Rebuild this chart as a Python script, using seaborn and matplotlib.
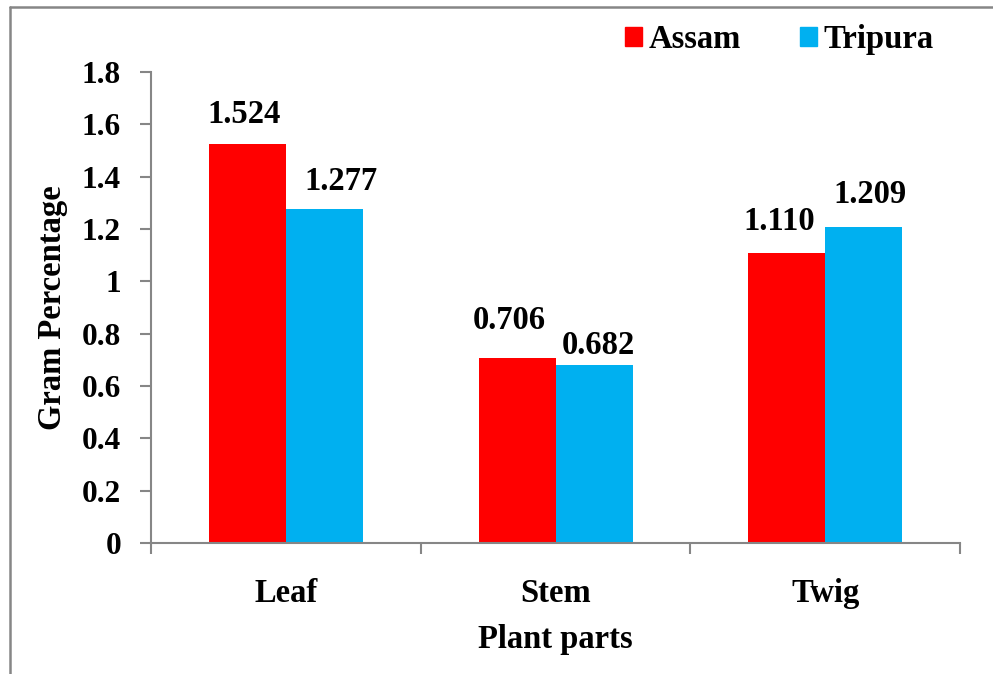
import matplotlib
matplotlib.use("Agg")
import matplotlib.pyplot as plt
import seaborn as sns
import pandas as pd
from matplotlib.lines import Line2D
from matplotlib.ticker import FixedLocator

# Data
parts = ["Leaf", "Stem", "Twig"]
regions = ["Assam", "Tripura"]
assam = [1.524, 0.706, 1.110]
tripura = [1.277, 0.682, 1.209]
colors = ["#FF0000", "#00B0F0"]

# Hand-placed value label nudges (pixels), per region then per part
label_dx = [[-3.5, -7.5, -7.5], [17, 4, 6]]
label_dy = [[21, 29, 23], [19, 11, 24]]

df = pd.DataFrame({
    "part": parts * 2,
    "region": [regions[0]] * 3 + [regions[1]] * 3,
    "value": assam + tripura,
})

sns.set_theme(style="white")
plt.rcParams["font.family"] = ["Liberation Serif", "DejaVu Serif"]
plt.rcParams["font.weight"] = "bold"
plt.rcParams["text.color"] = "black"
plt.rcParams["xtick.color"] = "black"
plt.rcParams["ytick.color"] = "black"
plt.rcParams["axes.labelcolor"] = "black"

fig = plt.figure(figsize=(9.93, 6.74), dpi=100)
ax = fig.add_axes([0.152, 0.1944, 0.815, 0.6988])

sns.barplot(data=df, x="part", y="value", hue="region", order=parts,
            hue_order=regions, palette=colors, width=0.571, gap=0,
            saturation=1, edgecolor="none", linewidth=0, ax=ax, legend=False)

series = [assam, tripura]
for s, cont in enumerate(ax.containers):
    for i, bar in enumerate(cont):
        ax.annotate(f"{series[s][i]:.3f}",
                    xy=(bar.get_x() + bar.get_width() / 2, bar.get_height()),
                    xytext=(label_dx[s][i], label_dy[s][i]),
                    textcoords="offset pixels", ha="center", va="baseline",
                    fontsize=23.5, fontweight="bold", color="black")

gray = "#868686"
ax.set_xlim(-0.5, 2.5)
ax.set_ylim(0, 1.8)
ax.set_yticks([0, 0.2, 0.4, 0.6, 0.8, 1.0, 1.2, 1.4, 1.6, 1.8])
ax.set_yticklabels(["0", "0.2", "0.4", "0.6", "0.8", "1", "1.2", "1.4", "1.6", "1.8"])
ax.xaxis.set_minor_locator(FixedLocator([-0.5, 0.5, 1.5, 2.5]))
ax.tick_params(axis="x", which="major", length=0, pad=25, labelsize=23.5,
               labelcolor="black")
ax.tick_params(axis="x", which="minor", length=8, width=1.5, color=gray,
               direction="out", bottom=True)
ax.tick_params(axis="y", length=8, width=1.5, color=gray, direction="out",
               left=True, pad=13.5, labelsize=22.5, labelcolor="black")
for lbl in ax.get_xticklabels() + ax.get_yticklabels():
    lbl.set_fontweight("bold")

for side in ["top", "right"]:
    ax.spines[side].set_visible(False)
for side in ["left", "bottom"]:
    ax.spines[side].set_color(gray)
    ax.spines[side].set_linewidth(1.5)

ax.set_xlabel("Plant parts", fontsize=23.5, fontweight="bold", labelpad=11,
              color="black")
ax.set_ylabel("Gram Percentage", fontsize=23.5, fontweight="bold", labelpad=10,
              color="black")

# Legend in a single row at the top right
handles = [plt.Rectangle((0, 0), 1, 1, color=c) for c in colors]
fig.legend(handles, regions, loc="center left", bbox_to_anchor=(0.629, 0.942),
           ncol=2, frameon=False, borderpad=0, borderaxespad=0,
           handlelength=0.52, handleheight=0.52,
           handletextpad=0.22, columnspacing=1.8,
           prop={"size": 23.5, "weight": "bold"})

# Outer chart border
fig.add_artist(Line2D([0.0105, 0.0105], [0.0, 0.9896], transform=fig.transFigure,
                      color=gray, linewidth=1.8))
fig.add_artist(Line2D([0.0105, 1.0], [0.9896, 0.9896], transform=fig.transFigure,
                      color=gray, linewidth=1.8))

fig.savefig("out.png", dpi=100)
